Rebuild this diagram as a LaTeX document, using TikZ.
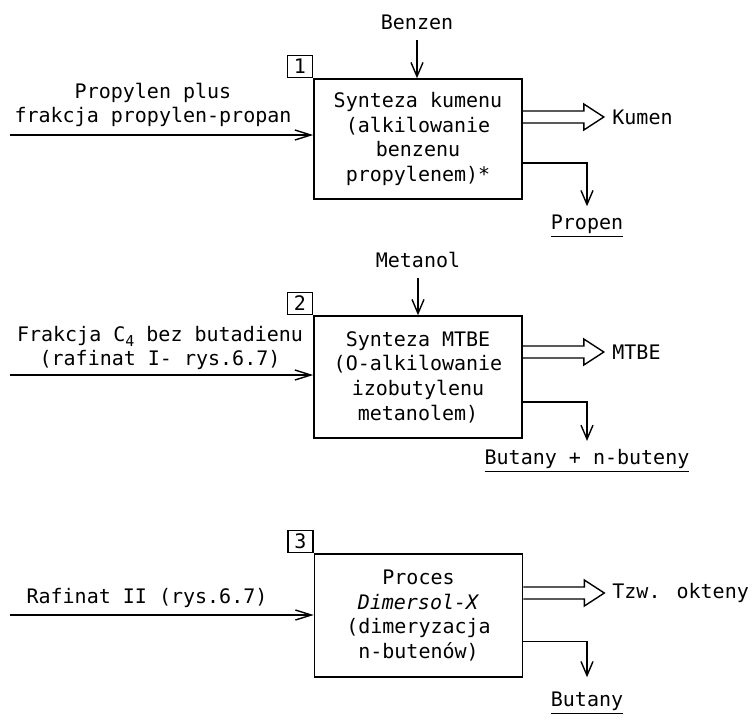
\documentclass[tikz,border=0pt]{standalone}
\usepackage{fontspec}
\setmainfont{DejaVu Sans Mono}
\setmonofont{DejaVu Sans Mono}
\usetikzlibrary{arrows.meta,calc}

% wide product stream: two parallel lines ending in an open triangular head
\newcommand{\hollowarrow}[1]{%
  \draw[wide] (#1) ++(0,-6) -- ++(61,0) -- ++(0,-7) -- ++(20,13)
    -- ++(-20,13) -- ++(0,-7) -- ++(-61,0);}
% subscript in the text face
\newcommand{\lowidx}[1]{\raisebox{-0.45ex}{\fontsize{7.5}{7.5}\selectfont #1}}

\begin{document}
\begin{tikzpicture}[x=0.5pt,y=-0.5pt,
  every node/.style={font=\fontsize{10}{12.3}\selectfont, inner sep=0pt},
  proc/.style={draw, line width=0.8pt, minimum width=104pt, align=center},
  tab/.style={draw, line width=0.8pt, minimum width=12.5pt, minimum height=11pt, anchor=south east},
  feed/.style={line width=0.7pt, -{Straight Barb[length=8pt,width=5pt]}},
  drop/.style={line width=0.7pt, -{Straight Barb[length=7pt,width=6pt]}},
  wide/.style={line width=0.7pt, line join=miter},
  lbl/.style={align=center}]

\useasboundingbox (0,0) rectangle (753,719);

% ---------- process 1: cumene synthesis ----------
\node[proc, minimum height=60pt] (b1) at (418,139)
  {Synteza kumenu\\(alkilowanie\\benzenu\\propylenem)*};
\node[tab] (t1) at (b1.north west) {1};
\node (benzen) at (417,22) {Benzen};
\draw[drop] ([yshift=-5pt]benzen.south) -- (benzen.south |- b1.north);
\node[lbl] (f1) at (153,105) {Propylen plus\\frakcja propylen-propan};
\coordinate (s1) at (10,135);
\draw[feed] (s1) -- (s1 -| b1.west);
\node[anchor=west] (kumen) at (612,117) {Kumen};
\hollowarrow{b1.east |- kumen.west}
\node (propen) at (587,226) {\underline{Propen}};
\draw[drop] ($(b1.east)+(0,24)$) -| ([yshift=4pt]propen.north);

% ---------- process 2: MTBE synthesis ----------
\node[proc, minimum height=61pt] (b2) at (418,377)
  {Synteza MTBE\\(O-alkilowanie\\izobutylenu\\metanolem)};
\node[tab] (t2) at (b2.north west) {2};
\node (metanol) at (418,260) {Metanol};
\draw[drop] ([yshift=-5pt]metanol.south) -- (metanol.south |- b2.north);
\node[lbl] (f2) at (160,348) {Frakcja C\lowidx{4} bez butadienu\\(rafinat I- rys.6.7)};
\coordinate (s2) at (10,375);
\draw[feed] (s2) -- (s2 -| b2.west);
\node[anchor=west] (mtbe) at (612,352) {MTBE};
\hollowarrow{b2.east |- mtbe.west}
\node (butany1) at (587,461) {\underline{Butany + n-buteny}};
\draw[drop] ($(b2.east)+(0,25)$) -| ([yshift=4pt]butany1.north);

% ---------- process 3: Dimersol-X ----------
\node[proc, minimum height=61.5pt] (b3) at (418.5,615.5)
  {Proces\\\textit{Dimersol-X}\\(dimeryzacja\\n-butenów)};
\node[tab] (t3) at (b3.north west) {3};
\node[lbl] (f3) at (147,598) {Rafinat II (rys.6.7)};
\coordinate (s3) at (10,615);
\draw[feed] (s3) -- (s3 -| b3.west);
\node[anchor=west] (okteny) at (612,593) {Tzw. okteny};
\hollowarrow{b3.east |- okteny.west}
\node (butany2) at (587,703) {\underline{Butany}};
\draw[drop] ($(b3.east)+(0,26)$) -| ([yshift=7pt]butany2.north);

\end{tikzpicture}
\end{document}
